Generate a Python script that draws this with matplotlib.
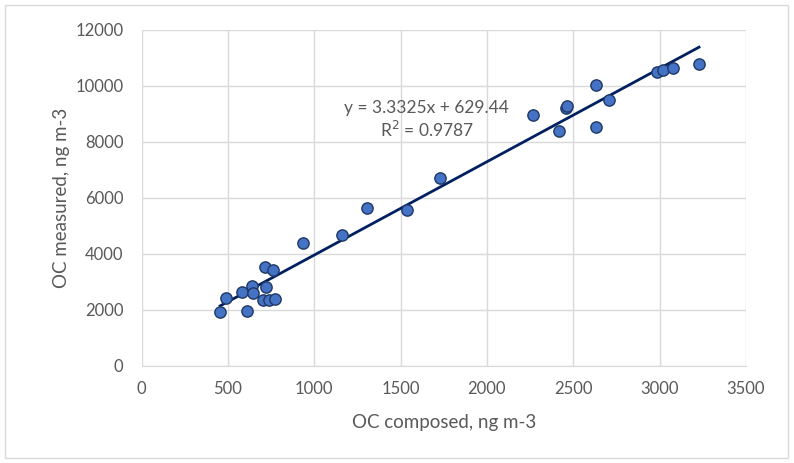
import matplotlib
matplotlib.use("Agg")
import matplotlib.pyplot as plt
import numpy as np
from matplotlib.patches import Rectangle

plt.rcParams["font.family"] = ["Lato", "DejaVu Sans"]

# OC composed (x) vs OC measured (y), ng m-3
oc_composed = [455, 489, 609, 580, 638, 644, 715, 760, 721, 705, 740, 773, 933,
               1163, 1307, 1537, 1728, 2265, 2419, 2455, 2465, 2633, 2633, 2705,
               2983, 3021, 3076, 3228]
oc_measured = [1920, 2420, 1950, 2640, 2870, 2620, 3520, 3420, 2810, 2360, 2370, 2380,
               4380, 4680, 5660, 5580, 6720, 8980, 8400, 9230, 9270, 10040, 8540, 9490,
               10510, 10580, 10660, 10770]

slope, intercept = 3.3325, 629.44
eq_label = "y = 3.3325x + 629.44"
r2_label = "R$^2$ = 0.9787"

grey = "#595959"
fig = plt.figure(figsize=(7.94, 4.63), dpi=100)
ax = fig.add_axes([141.5 / 794, 97 / 463, 604.5 / 794, 336 / 463])

xs = np.array([min(oc_composed), max(oc_composed)])
ax.plot(xs, slope * xs + intercept, color="#002060", lw=2.0, zorder=2)
ax.scatter(oc_composed, oc_measured, s=66, color="#4472C4",
           edgecolor="#1F3864", linewidth=1.0, zorder=3)

ax.set_xlim(0, 3500)
ax.set_ylim(0, 12000)
ax.set_xticks(range(0, 3501, 500))
ax.set_yticks(range(0, 12001, 2000))
ax.grid(True, color="#d9d9d9", lw=1.0)
ax.set_axisbelow(True)
for s in ["top", "right", "left"]:
    ax.spines[s].set_visible(False)
ax.spines["bottom"].set_color("#d9d9d9")
ax.tick_params(axis="x", length=0, labelsize=12, colors=grey, pad=11)
ax.tick_params(axis="y", length=0, labelsize=12, colors=grey, pad=13)

ax.set_xlabel("OC composed, ng m-3", fontsize=13.5, color=grey, labelpad=12)
ax.set_ylabel("OC measured, ng m-3", fontsize=13.5, color=grey, labelpad=4)

ax.text(1647, 9214, eq_label, fontsize=12.5, color=grey, ha="center", va="center")
ax.text(1653, 8430, r2_label, fontsize=12.5, color=grey, ha="center", va="center")

fig.patches.append(Rectangle((0.006, 0.01), 0.987, 0.98, transform=fig.transFigure,
                             fill=False, edgecolor="#d9d9d9", lw=1.0))

fig.savefig("out.png", dpi=100, facecolor="white")
